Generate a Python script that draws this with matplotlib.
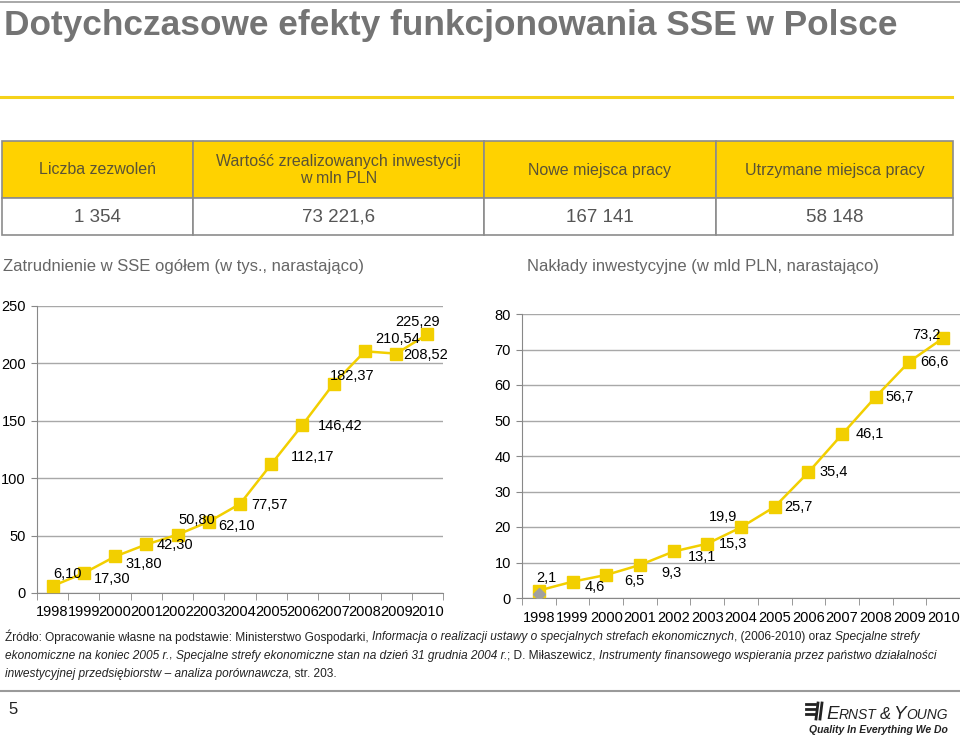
import matplotlib
matplotlib.use("Agg")
import matplotlib.pyplot as plt
from matplotlib.patches import Rectangle
from matplotlib.lines import Line2D

# --- dane ---
years = [str(y) for y in range(1998, 2011)]
employment = [6.10, 17.30, 31.80, 42.30, 50.80, 62.10, 77.57,
              112.17, 146.42, 182.37, 210.54, 208.52, 225.29]
investment = [2.1, 4.6, 6.5, 9.3, 13.1, 15.3, 19.9,
              25.7, 35.4, 46.1, 56.7, 66.6, 73.2]
investment_extra = [1.2]   # szary romb w 1998

table_head = ["Liczba zezwoleń", "Wartość zrealizowanych inwestycji\nw mln PLN",
              "Nowe miejsca pracy", "Utrzymane miejsca pracy"]
table_vals = ["1 354", "73 221,6", "167 141", "58 148"]

# przesuniecia etykiet (piksele)
emp_off = [(15, 12), (28, -6), (29, -8), (29, -1), (19, 15), (28, -4), (29, -1),
           (41, 7), (38, -1), (18, 8), (33, 12), (29, -1), (-10, 12)]
inv_off = [(8, 13), (22, -5), (28, -6), (32, -8), (28, -6), (26, 0), (-18, 10),
           (24, 0), (25, 0), (28, 0), (24, 0), (25, 0), (-17, 3)]

W, H = 960, 738
YELLOW = "#F2CF00"
GRID = "#A8A8A8"
FONT = ["Liberation Sans", "DejaVu Sans"]
plt.rcParams["font.family"] = FONT


def fx(x):
    return x / W


def fy(y):
    return 1 - y / H


fig = plt.figure(figsize=(W / 100, H / 100), dpi=100)
renderer = fig.canvas.get_renderer()

# --- naglowek slajdu ---
fig.add_artist(Line2D([0, 1], [fy(2), fy(2)], color="#9A9A9A", lw=1.2))
title = fig.text(fx(4), fy(25), "Dotychczasowe efekty funkcjonowania SSE w Polsce",
                 fontsize=25, weight="bold", color="#747474", va="center", ha="left")
# dopasowanie szerokosci tytulu do slajdu
tw = title.get_window_extent(renderer).width
title.set_fontsize(25 * 896 / tw)
fig.add_artist(Line2D([0, fx(952)], [fy(97), fy(97)], color="#F5D21A", lw=2.2))

# --- tabela ---
cols = [2, 193, 484, 716, 953]
for i in range(4):
    x0, x1 = cols[i], cols[i + 1]
    fig.add_artist(Rectangle((fx(x0), fy(198)), fx(x1 - x0), fy(141) - fy(198),
                             facecolor="#FFD200", edgecolor="#8C8C8C", lw=1.2))
    fig.add_artist(Rectangle((fx(x0), fy(235)), fx(x1 - x0), fy(198) - fy(235),
                             facecolor="white", edgecolor="#8C8C8C", lw=1.2))
    fig.text(fx((x0 + x1) / 2), fy(170), table_head[i], ha="center", va="center",
             fontsize=11.5, color="#5A5336", linespacing=1.1)
    fig.text(fx((x0 + x1) / 2), fy(217), table_vals[i], ha="center", va="center",
             fontsize=13.5, color="#555555")

fig.text(fx(3), fy(267), "Zatrudnienie w SSE ogółem (w tys., narastająco)",
         fontsize=12, color="#666666", va="center")
fig.text(fx(527), fy(267), "Nakłady inwestycyjne (w mld PLN, narastająco)",
         fontsize=12, color="#666666", va="center")


def style_axes(ax, ymax, step):
    x = list(range(len(years)))
    ax.set_xlim(-0.5, len(years) - 0.5)
    ax.set_ylim(0, ymax)
    ax.set_yticks(range(0, ymax + 1, step))
    ax.set_xticks(x)
    ax.set_xticklabels(years)
    ax.set_xticks([i - 0.5 for i in range(len(years) + 1)], minor=True)
    ax.tick_params(axis="x", which="major", length=0, pad=9, labelsize=10.5)
    ax.tick_params(axis="x", which="minor", length=5, color="#888888")
    ax.tick_params(axis="y", length=4, color="#888888", labelsize=10.5, pad=4)
    ax.grid(axis="y", color=GRID, lw=1)
    ax.set_axisbelow(True)
    for s in ["top", "right"]:
        ax.spines[s].set_visible(False)
    for s in ["left", "bottom"]:
        ax.spines[s].set_color("#888888")
    return x


# --- wykres lewy ---
ax1 = fig.add_axes([fx(37), fy(593), fx(406), fy(306) - fy(593)])
x = style_axes(ax1, 250, 50)
ax1.plot(x, employment, color=YELLOW, lw=1.8, marker="s", markersize=8,
         markeredgecolor=YELLOW, markerfacecolor=YELLOW, zorder=3)
for xi, v, off in zip(x, employment, emp_off):
    ax1.annotate(f"{v:.2f}".replace(".", ","), (xi, v), xytext=off,
                 textcoords="offset pixels", ha="center", va="center", fontsize=10.5)

# --- wykres prawy ---
ax2 = fig.add_axes([fx(522), fy(598), fx(438), fy(314) - fy(598)])
x = style_axes(ax2, 80, 10)
ax2.plot(x, investment, color=YELLOW, lw=1.8, marker="s", markersize=8,
         markeredgecolor=YELLOW, markerfacecolor=YELLOW, zorder=3)
ax2.plot(x[:1], investment_extra, linestyle="none", marker="D", markersize=6,
         color="#A0A0A0", zorder=4)
for xi, v, off in zip(x, investment, inv_off):
    ax2.annotate(f"{v:.1f}".replace(".", ","), (xi, v), xytext=off,
                 textcoords="offset pixels", ha="center", va="center", fontsize=10.5)

# --- zrodlo (tekst mieszany: zwykly / kursywa) ---
src_lines = [
    [("Źródło: Opracowanie własne na podstawie: Ministerstwo Gospodarki,", "normal"),
     ("Informacja o realizacji ustawy o specjalnych strefach ekonomicznych", "italic"),
     (", (2006-2010) oraz", "normal0"),
     ("Specjalne strefy", "italic")],
    [("ekonomiczne na koniec 2005 r.", "italic"),
     (",", "normal0"),
     ("Specjalne strefy ekonomiczne stan na dzień 31 grudnia 2004 r.", "italic"),
     ("; D. Miłaszewicz,", "normal0"),
     ("Instrumenty finansowego wspierania przez państwo działalności", "italic")],
    [("inwestycyjnej przedsiębiorstw – analiza porównawcza", "italic"),
     (", str. 203.", "normal0")],
]
src_y = [637, 656, 674]
FS_SRC = 8.6

t1 = fig.text(0, 0, "xx", fontsize=FS_SRC)
t2 = fig.text(0, 0, "x x", fontsize=FS_SRC)
space = t2.get_window_extent(renderer).width - t1.get_window_extent(renderer).width
t1.remove()
t2.remove()

for runs, yy in zip(src_lines, src_y):
    xpos = 5
    for k, (txt, st) in enumerate(runs):
        if k > 0 and st != "normal0":
            xpos += space
        t = fig.text(fx(xpos), fy(yy), txt, fontsize=FS_SRC, color="#222222",
                     style="italic" if st == "italic" else "normal", va="center")
        xpos += t.get_window_extent(renderer).width

fig.add_artist(Line2D([0, 1], [fy(691), fy(691)], color="#9A9A9A", lw=1.5))
fig.text(fx(8), fy(710), "5", fontsize=12, color="#222222", va="center")

# --- logo ---
for yy in [704, 709, 714]:
    fig.add_artist(Line2D([fx(806), fx(815)], [fy(yy), fy(yy)], color="#222222", lw=2))
for xx in [818, 822]:
    fig.add_artist(Line2D([fx(xx), fx(xx - 2)], [fy(703), fy(719)], color="#222222", lw=2))
logo = [("E", 13.5), ("RNST", 10), ("&", 12), ("Y", 13.5), ("OUNG", 10)]
xpos = 826
for txt, fs in logo:
    t = fig.text(fx(xpos), fy(719), txt, fontsize=fs, color="#222222",
                 style="italic", va="baseline")
    xpos += t.get_window_extent(renderer).width + (3 if txt in ("RNST", "&") else 0)
fig.text(fx(948), fy(730), "Quality In Everything We Do", fontsize=7.5,
         style="italic", weight="bold", color="#222222", ha="right", va="center")

fig.savefig("out.png", dpi=100)
